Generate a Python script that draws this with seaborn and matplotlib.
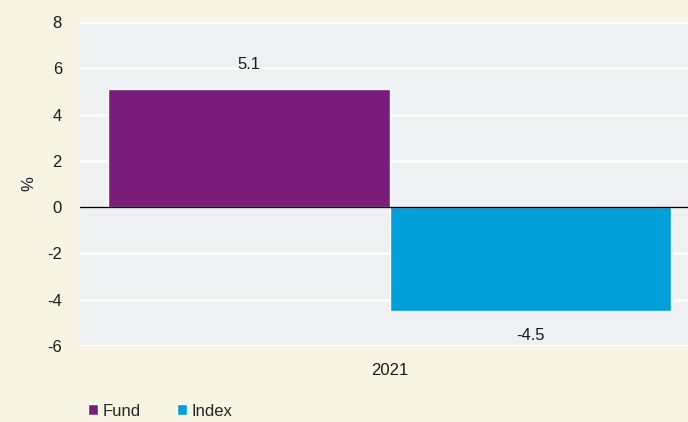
import pandas as pd
import matplotlib
matplotlib.use('Agg')
import matplotlib.pyplot as plt
import seaborn as sns

# dados
anos = ['2021', '2021']
series = ['Fund', 'Index']
valores = [5.1, -4.5]

cor_fund = '#7A1C7A'
cor_index = '#009FDA'
fundo_fig = '#F8F4E3'
fundo_plot = '#EFF0F2'
cor_texto = '#1A1A1A'

sns.set_theme(style='white')
plt.rcParams['font.family'] = ['Liberation Sans', 'DejaVu Sans']
plt.rcParams['axes.unicode_minus'] = False

df = pd.DataFrame({'ano': anos, 'serie': series, 'valor': valores})

fig = plt.figure(figsize=(6.88, 4.22), dpi=100, facecolor=fundo_fig)
ax = fig.add_axes([80 / 688, 1 - 346 / 422, 1 - 80 / 688, (346 - 22) / 422])
ax.set_facecolor(fundo_plot)

sns.barplot(data=df, x='ano', y='valor', hue='serie', ax=ax,
            palette=[cor_fund, cor_index], width=0.9, saturation=1)

for cont in ax.containers:
    ax.bar_label(cont, fmt='%.1f', padding=12, fontsize=12, color=cor_texto)

ax.set_ylim(-6, 8)
ax.set_yticks(range(-6, 9, 2))
ax.set_xlim(-0.4947, 0.477)
ax.yaxis.grid(True, color='white', linewidth=2)
ax.set_axisbelow(True)
ax.axhline(0, color='black', linewidth=1, zorder=5)

ax.set_xlabel('')
ax.set_ylabel('%', fontsize=12, color=cor_texto, labelpad=8)
ax.tick_params(axis='both', length=0, labelsize=12, labelcolor=cor_texto)
ax.tick_params(axis='y', pad=13)
ax.tick_params(axis='x', pad=12)
sns.despine(ax=ax, left=True, bottom=True)

handles, labels = ax.get_legend_handles_labels()
ax.get_legend().remove()
fig.legend(handles, labels, loc='lower left', bbox_to_anchor=(88 / 688, 0.008),
           ncol=2, frameon=False, fontsize=12, handlelength=0.6, handleheight=0.6,
           handletextpad=0.25, columnspacing=2.2, borderaxespad=0, borderpad=0)

fig.savefig('out.png', dpi=100, facecolor=fundo_fig)
